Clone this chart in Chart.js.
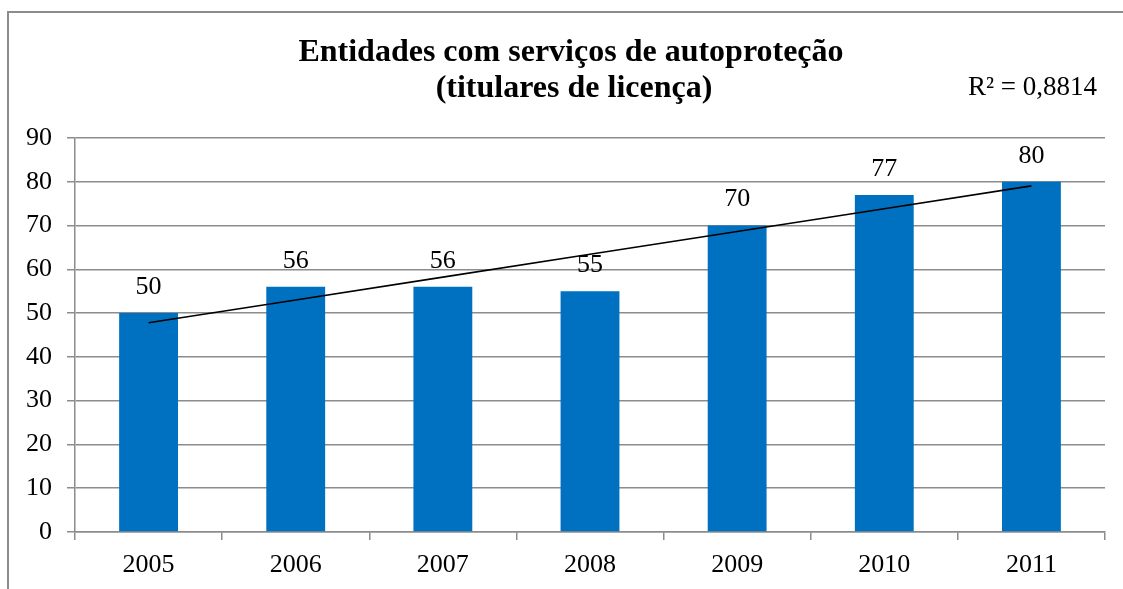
<!DOCTYPE html>
<html lang="pt">
<head>
    <meta charset="UTF-8">
    <title>Entidades com serviços de autoproteção</title>
    <style>
        html, body { margin: 0; padding: 0; background: #fff; overflow: hidden; }
        #frame {
            position: absolute;
            left: 7px;
            top: 11px;
            width: 1200px;
            height: 700px;
            border-top: 2px solid #8c8c8c;
            border-left: 2px solid #8c8c8c;
        }
        #wrap {
            position: absolute;
            left: 0;
            top: 0;
            width: 1123px;
            height: 589px;
        }
    </style>
</head>
<body>
<div id="frame"></div>
<div id="wrap">
    <canvas id="chart" width="1123" height="589"></canvas>
</div>
<script src="https://cdn.jsdelivr.net/npm/chart.js"></script>
<script>
    const years = ['2005', '2006', '2007', '2008', '2009', '2010', '2011'];
    const entidades = [50, 56, 56, 55, 70, 77, 80];
    const titleLines = ['Entidades com serviços de autoproteção', '(titulares de licença)'];
    const r2Label = 'R² = 0,8814';

    // linear trend (least squares) over the bar values
    const n = entidades.length;
    const mx = (n + 1) / 2;
    const my = entidades.reduce((a, b) => a + b, 0) / n;
    let sxy = 0, sxx = 0;
    entidades.forEach((v, i) => { sxy += (i + 1 - mx) * (v - my); sxx += (i + 1 - mx) * (i + 1 - mx); });
    const slope = sxy / sxx;
    const trend = entidades.map((v, i) => my + slope * (i + 1 - mx));

    const serif = '"Liberation Serif", "Times New Roman", serif';

    const labelsPlugin = {
        id: 'extras',
        afterDatasetsDraw(chart) {
            const ctx = chart.ctx;
            const meta = chart.getDatasetMeta(1);
            ctx.save();
            ctx.fillStyle = '#000';
            ctx.font = '26px ' + serif;
            ctx.textAlign = 'center';
            ctx.textBaseline = 'middle';
            meta.data.forEach((bar, i) => {
                ctx.fillText(String(entidades[i]), bar.x, bar.y - 26);
            });
            ctx.restore();
        },
        afterDraw(chart) {
            const ctx = chart.ctx;
            ctx.save();
            ctx.fillStyle = '#000';
            ctx.textAlign = 'center';
            ctx.textBaseline = 'middle';
            ctx.font = 'bold 32px ' + serif;
            ctx.fillText(titleLines[0], 571, 53);
            ctx.fillText(titleLines[1], 574, 89);
            ctx.font = '27px ' + serif;
            ctx.textAlign = 'right';
            ctx.fillText(r2Label, 1097, 88);
            ctx.restore();
        }
    };

    new Chart(document.getElementById('chart'), {
        data: {
            labels: years,
            datasets: [{
                type: 'line',
                data: trend,
                borderColor: '#000',
                borderWidth: 1.6,
                pointRadius: 0,
                tension: 0,
                order: 0
            }, {
                type: 'bar',
                data: entidades,
                backgroundColor: '#0070C0',
                borderWidth: 0,
                barPercentage: 0.4,
                categoryPercentage: 1,
                order: 1
            }]
        },
        options: {
            responsive: false,
            animation: false,
            layout: { padding: { top: 138, left: 0, right: 18, bottom: 0 } },
            plugins: {
                legend: { display: false },
                tooltip: { enabled: false },
                title: { display: false }
            },
            scales: {
                x: {
                    offset: true,
                    afterFit: s => { s.height = 57; },
                    grid: {
                        offset: true,
                        drawOnChartArea: false,
                        drawTicks: true,
                        tickLength: 8,
                        color: '#8c8c8c',
                        lineWidth: 1.5
                    },
                    border: { display: true, color: '#8c8c8c', width: 1.5 },
                    ticks: {
                        color: '#000',
                        font: { family: serif, size: 26 },
                        padding: 10
                    }
                },
                y: {
                    min: 0,
                    max: 90,
                    afterFit: s => { s.width = 75; },
                    grid: {
                        color: '#8c8c8c',
                        lineWidth: 1.5,
                        drawTicks: true,
                        tickLength: 8
                    },
                    border: { display: true, color: '#8c8c8c', width: 1.5 },
                    ticks: {
                        stepSize: 10,
                        color: '#000',
                        font: { family: serif, size: 26 },
                        padding: 15
                    }
                }
            }
        },
        plugins: [labelsPlugin]
    });
</script>
</body>
</html>
